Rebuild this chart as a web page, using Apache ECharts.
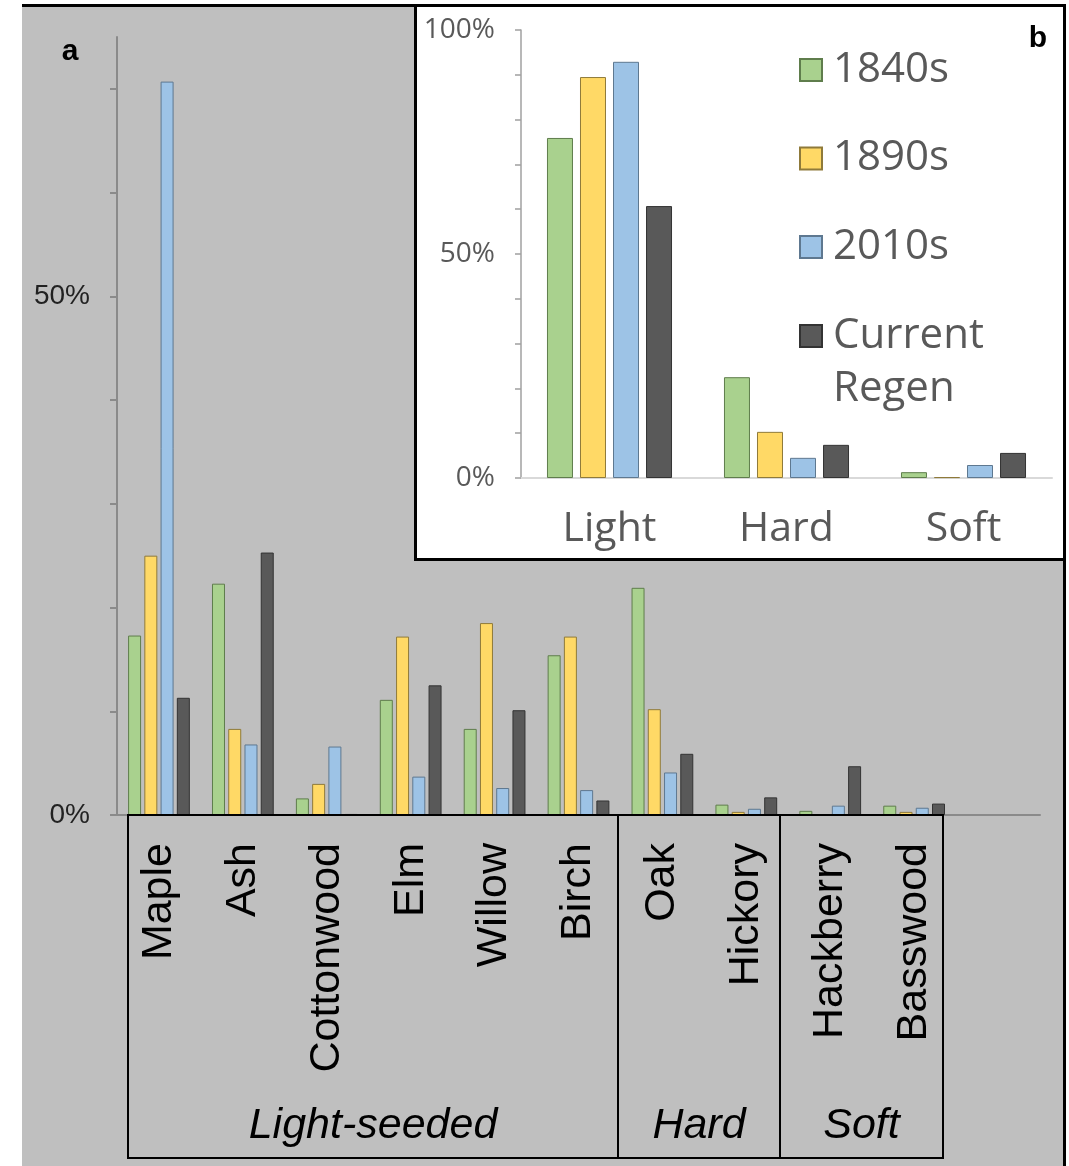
<!DOCTYPE html>
<html>
<head>
<meta charset="utf-8">
<script src="https://cdn.jsdelivr.net/npm/echarts@6/dist/echarts.min.js"></script>
<style>
  html, body { margin: 0; padding: 0; background: #fff; }
  #chart { width: 1069px; height: 1166px; }
</style>
</head>
<body>
<div id="chart"></div>
<script>
// Panel a: share of each genus by period (%)
const genera = ['Maple', 'Ash', 'Cottonwood', 'Elm', 'Willow', 'Birch', 'Oak', 'Hickory', 'Hackberry', 'Basswood'];
const genus1840s = [17.3, 22.3, 1.6, 11.1, 8.3, 15.4, 21.9, 1.0, 0.4, 0.9];
const genus1890s = [25.0, 8.3, 3.0, 17.2, 18.5, 17.2, 10.2, 0.3, 0.0, 0.3];
const genus2010s = [70.7, 6.8, 6.6, 3.7, 2.6, 2.4, 4.1, 0.6, 0.9, 0.7];
const genusRegen = [11.3, 25.3, 0.1, 12.5, 10.1, 1.4, 5.9, 1.7, 4.7, 1.1];

// Groups of genera shown under the axis
const groupNames = ['Light-seeded', 'Hard', 'Soft'];

// Panel b: share of each group by period (%)
const groups = ['Light', 'Hard', 'Soft'];
const group1840s = [75.9, 22.5, 1.3];
const group1890s = [89.5, 10.3, 0.2];
const group2010s = [92.9, 4.5, 2.9];
const groupRegen = [60.7, 7.4, 5.6];

const periodNames = ['1840s', '1890s', '2010s', 'Current Regen'];
const mainTicks = [0, 10, 20, 30, 40, 50, 60, 70];
const mainTickLabels = [0, 50];

const fills = ['#a9d18e', '#ffd966', '#9dc3e6', '#595959'];
const edges = ['#5f7d4c', '#8f7a3a', '#5e7890', '#333333'];

const chart = echarts.init(document.getElementById('chart'), null, { renderer: 'canvas' });

const mainSeriesData = [genus1840s, genus1890s, genus2010s, genusRegen];
const insetSeriesData = [group1840s, group1890s, group2010s, groupRegen];

const series = [];
periodNames.forEach((name, i) => {
  series.push({
    name, type: 'bar', xAxisIndex: 0, yAxisIndex: 0,
    data: mainSeriesData[i], barWidth: 13, barGap: '25%',
    itemStyle: { color: fills[i], borderColor: edges[i], borderWidth: 1 },
    emphasis: { disabled: true }
  });
});
periodNames.forEach((name, i) => {
  series.push({
    name, type: 'bar', xAxisIndex: 1, yAxisIndex: 1,
    data: insetSeriesData[i], barWidth: 26, barGap: '27%',
    itemStyle: { color: fills[i], borderColor: edges[i], borderWidth: 1 },
    emphasis: { disabled: true }
  });
});

const pct = v => v + '%';

// Table frame under the genus axis
const tableLeft = 128, tableRight = 943, tableTop = 815, tableBottom = 1158;
const dividers = [618, 780];
const bounds = [tableLeft, ...dividers, tableRight];

const graphics = [
  { type: 'rect', z: -20, shape: { x: 22, y: 5, width: 1042, height: 1161 }, style: { fill: '#bfbfbf' } },
  { type: 'line', z: 20, shape: { x1: 22, y1: 5.5, x2: 1066, y2: 5.5 }, style: { stroke: '#000', lineWidth: 3 } },
  { type: 'line', z: 20, shape: { x1: 1064.5, y1: 5, x2: 1064.5, y2: 1166 }, style: { stroke: '#000', lineWidth: 3 } },
  { type: 'rect', z: -10, shape: { x: 415.5, y: 5.5, width: 649, height: 554 }, style: { fill: '#ffffff', stroke: '#000', lineWidth: 3 } },
  { type: 'rect', z: 20, shape: { x: tableLeft, y: tableTop, width: tableRight - tableLeft, height: tableBottom - tableTop }, style: { fill: 'none', stroke: '#000', lineWidth: 2 } },
  { type: 'text', z: 20, style: { text: 'a', x: 70, y: 52, align: 'center', verticalAlign: 'middle', fontSize: 30, fontWeight: 'bold', fontFamily: 'Liberation Sans', fill: '#000' } },
  { type: 'text', z: 20, style: { text: 'b', x: 1038, y: 39, align: 'center', verticalAlign: 'middle', fontSize: 30, fontWeight: 'bold', fontFamily: 'Liberation Sans', fill: '#000' } }
];
dividers.forEach(x => {
  graphics.push({ type: 'line', z: 20, shape: { x1: x, y1: tableTop, x2: x, y2: tableBottom }, style: { stroke: '#000', lineWidth: 2 } });
});
groupNames.forEach((g, i) => {
  graphics.push({
    type: 'text', z: 20,
    style: { text: g, x: (bounds[i] + bounds[i + 1]) / 2, y: 1126, align: 'center', verticalAlign: 'middle',
             fontSize: 43, fontStyle: 'italic', fontFamily: 'Liberation Sans', fill: '#000' }
  });
});

const legendText = { fontSize: 42, lineHeight: 53, fontFamily: 'Open Sans', color: '#595959', padding: [0, 0, 0, 6] };

const option = {
  animation: false,
  backgroundColor: '#ffffff',
  grid: [
    { left: 117, right: 29, top: 37, bottom: 351, containLabel: false, outerBoundsMode: 'none' },
    { left: 521, right: 17, top: 30, bottom: 688, containLabel: false, outerBoundsMode: 'none' }
  ],
  xAxis: [
    {
      type: 'category', gridIndex: 0, data: genera, max: genera.length,
      axisLine: { lineStyle: { color: '#8a8a8a', width: 2 } },
      axisTick: { show: false },
      axisLabel: {
        rotate: 90, margin: 28, interval: 0, fontSize: 43, fontFamily: 'Liberation Sans', color: '#000',
        formatter: v => v || ''
      },
      splitLine: { show: false }
    },
    {
      type: 'category', gridIndex: 1, data: groups,
      axisLine: { lineStyle: { color: '#d9d9d9', width: 2 } },
      axisTick: { show: false },
      axisLabel: { margin: 31, fontSize: 41, fontFamily: 'Open Sans', color: '#595959' },
      splitLine: { show: false }
    }
  ],
  yAxis: [
    {
      type: 'value', gridIndex: 0, min: 0, max: 75, interval: 10,
      axisLine: { show: true, lineStyle: { color: '#8a8a8a', width: 2 } },
      axisTick: { show: true, length: 7, customValues: mainTicks, lineStyle: { color: '#8a8a8a', width: 2 } },
      axisLabel: { customValues: mainTickLabels, margin: 27, fontSize: 28, fontFamily: 'Liberation Sans', color: '#222', formatter: pct },
      splitLine: { show: false }
    },
    {
      type: 'value', gridIndex: 1, min: 0, max: 100, interval: 10,
      axisLine: { show: true, lineStyle: { color: '#a0a0a0', width: 1.5 } },
      axisTick: { show: true, length: 6, lineStyle: { color: '#a0a0a0', width: 1.5 } },
      axisLabel: { margin: 26, fontSize: 28, fontFamily: 'Open Sans', color: '#595959',
                   formatter: v => (v % 50 === 0 ? v + '%' : '') },
      splitLine: { show: false }
    }
  ],
  legend: [
    {
      data: periodNames.slice(0, 3), orient: 'vertical', left: 799, top: 43.5, padding: 0,
      icon: 'rect', itemWidth: 22, itemHeight: 22, itemGap: 35.5, selectedMode: false,
      textStyle: legendText
    },
    {
      // blank first line keeps the icon level with the word "Current"
      data: [periodNames[3]], orient: 'vertical', left: 799, top: 256.5, padding: 0,
      icon: 'rect', itemWidth: 22, itemHeight: 22, selectedMode: false,
      formatter: n => '\u00a0\n' + n.replace(' ', '\n'),
      textStyle: legendText
    }
  ],
  graphic: { elements: graphics },
  series
};

chart.setOption(option);
</script>
</body>
</html>
